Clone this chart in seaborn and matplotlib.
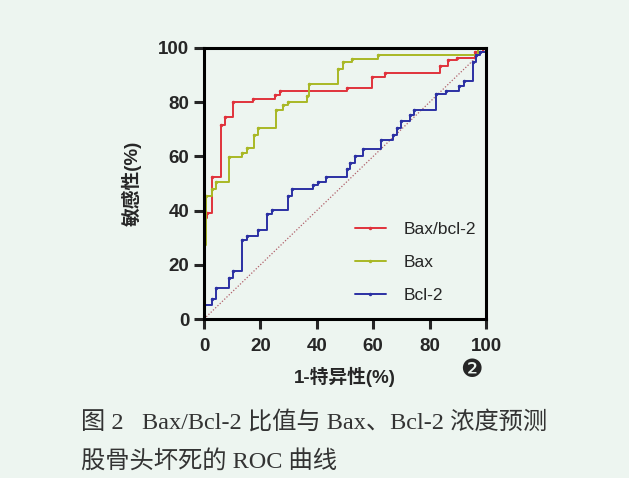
import pandas as pd
import matplotlib.pyplot as plt
import seaborn as sns

# ROC 曲线拐点 (1-特异性, 敏感性), 单位 %
ratio_fpr = [0, 0, 1, 3, 5.9, 7.4, 10.4, 17.5, 25.2, 27, 50.6, 59.5, 64.2, 83.7, 86.6, 89.6, 96, 99, 100]
ratio_tpr = [0, 37.4, 39, 52.4, 71.7, 74.6, 80, 81.3, 82.7, 84.2, 85.4, 89.2, 90.8, 93.5, 95.4, 96.3, 98.5, 100, 100]

bax_fpr = [0, 0, 0.7, 2.7, 4.3, 9, 13.4, 15.1, 17.7, 19.3, 25.5, 28.1, 29.9, 36.4, 37.4, 47.6, 49.4, 52.4, 61.8, 97, 100]
bax_tpr = [0, 27.4, 45.5, 48, 50.5, 59.9, 61.3, 63, 68, 70.4, 77.3, 78.8, 80, 82.3, 86.7, 92.3, 94.8, 96, 97.5, 100, 100]

bcl_fpr = [0, 0, 2.7, 4.3, 9, 10.4, 13.4, 15.1, 19.3, 22.5, 24, 29.9, 31.1, 38.8, 40.5, 43.3, 50.6, 51.8,
           53.5, 56.5, 62.6, 67.1, 68.3, 69.7, 73, 74.5, 82.3, 85.8, 90.5, 92.2, 95.3, 96.5, 97.9, 100]
bcl_tpr = [0, 5.2, 7.5, 11.5, 15.2, 17.7, 29.3, 30.5, 33, 38.9, 40.1, 45.5, 48, 49.3, 50.5, 52.4, 55.5, 57.4,
           60.1, 62.6, 66.1, 68, 70.4, 72.9, 75.1, 77.3, 82.9, 84.2, 85.8, 87.9, 94.8, 97.3, 98.5, 100]

labels = ['Bax/bcl-2', 'Bax', 'Bcl-2']
ticks = [0, 20, 40, 60, 80, 100]

df = pd.concat([
    pd.DataFrame({'fpr': ratio_fpr, 'tpr': ratio_tpr, 'group': labels[0]}),
    pd.DataFrame({'fpr': bax_fpr, 'tpr': bax_tpr, 'group': labels[1]}),
    pd.DataFrame({'fpr': bcl_fpr, 'tpr': bcl_tpr, 'group': labels[2]}),
], ignore_index=True)

bg = '#edf5f0'
sns.set_style('ticks')
plt.rcParams['font.family'] = ['Liberation Sans', 'Noto Sans CJK SC', 'DejaVu Sans']

fig = plt.figure(figsize=(6.29, 4.78), dpi=100, facecolor=bg)
ax = fig.add_axes([0.3243, 0.3326, 0.4483, 0.5670])
ax.set_facecolor(bg)

palette = {'Bax/bcl-2': '#e0323c', 'Bax': '#a9b825', 'Bcl-2': '#2b30a3'}

# 对角参考线
ax.plot([0, 100], [0, 100], ls=(0, (1, 1.5)), color='#b0606a', lw=0.9)

sns.lineplot(data=df, x='fpr', y='tpr', hue='group', palette=palette, sort=False, estimator=None,
             drawstyle='steps-post', marker='o', markersize=2.5, markeredgewidth=0, lw=1.4, ax=ax)

ax.set_xlim(0, 100)
ax.set_ylim(0, 100)
ax.set_xticks(ticks)
ax.set_yticks(ticks)
for sp in ax.spines.values():
    sp.set_linewidth(2.2)
    sp.set_color('black')
ax.tick_params(direction='out', length=7.5, width=2.2, labelsize=13.5, pad=3)
ax.tick_params(axis='x', pad=6)
for lab in ax.get_xticklabels() + ax.get_yticklabels():
    lab.set_fontweight('bold')

ax.set_xlabel('1-特异性(%)', fontsize=13.5, fontweight='bold', labelpad=9)
ax.set_ylabel('敏感性(%)', fontsize=13.5, fontweight='bold', labelpad=12)

leg = ax.legend(loc='lower right', frameon=False, fontsize=12.5, handlelength=1.8,
                labelspacing=1.05, handletextpad=1.0, bbox_to_anchor=(1.02, 0.0))

fig.text(0.749, 0.225, '\u2777', fontsize=18, family=['DejaVu Sans'], ha='center', va='center')

cap_font = ['Liberation Serif', 'Noto Sans CJK SC', 'DejaVu Sans']
fig.text(0.128, 0.117, '图 2   Bax/Bcl-2 比值与 Bax、Bcl-2 浓度预测', fontsize=17.5, color='#333333',
         family=cap_font, va='center')
fig.text(0.128, 0.035, '股骨头坏死的 ROC 曲线', fontsize=17.5, color='#333333',
         family=cap_font, va='center')

fig.savefig('out.png', dpi=100, facecolor=bg)
